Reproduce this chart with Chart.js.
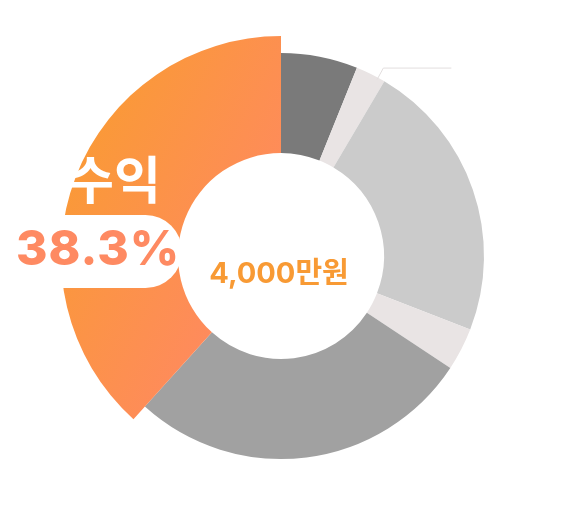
<!DOCTYPE html>
<html>
<head>
<meta charset="utf-8">
<script src="https://cdn.jsdelivr.net/npm/chart.js@4"></script>
<style>
  html, body { margin: 0; padding: 0; background: #ffffff; }
  #wrap { width: 580px; height: 521px; position: relative; }
</style>
</head>
<body>
<div id="wrap"><canvas id="c"></canvas></div>
<script>
const categories = ['항목 1', '항목 2', '항목 3', '항목 4', '항목 5', '수익'];
const values = [6.1, 2.4, 22.4, 3.4, 27.4, 38.3];
const sliceColors = ['#7a7a7a', '#e9e4e4', '#cbcbcb', '#e9e4e4', '#a1a1a1', 'GRADIENT'];
const highlightIndex = 5;
const highlightName = '수익';
const highlightLabel = '38.3%';
const totalLabel = '4,000만원';

function orangeGradient(chart) {
  const area = chart.chartArea;
  if (!area) return '#fb9440';
  const cx = (area.left + area.right) / 2;
  const r = Math.min(area.width, area.height) / 2;
  const g = chart.ctx.createLinearGradient(cx - r, area.top + r * 0.6, cx, area.top + r * 1.1);
  g.addColorStop(0, '#fa9a36');
  g.addColorStop(1, '#ff8863');
  return g;
}

function colorFor(ctx, outer) {
  const i = ctx.dataIndex;
  if (outer) return 'rgba(0,0,0,0)';
  if (i === highlightIndex) return orangeGradient(ctx.chart);
  return sliceColors[i];
}

// the highlighted slice reaches out to the outer (thin) ring's edge
const growPlugin = {
  id: 'grow',
  afterDatasetsUpdate(chart) {
    const outerEl = chart.getDatasetMeta(0).data[highlightIndex];
    const innerEl = chart.getDatasetMeta(1).data[highlightIndex];
    if (outerEl && innerEl) innerEl.outerRadius = outerEl.outerRadius;
  }
};

const labelPlugin = {
  id: 'labels',
  afterDatasetsDraw(chart) {
    const ctx = chart.ctx;
    const meta = chart.getDatasetMeta(1);
    const arc0 = meta.data[0];
    const cx = arc0.x, cy = arc0.y;

    // leader line from the small slice
    const a = meta.data[1];
    const mid = (a.startAngle + a.endAngle) / 2 + 0.04;
    const r1 = a.outerRadius - 2, r2 = a.outerRadius + 11;
    const x1 = cx + Math.cos(mid) * r1, y1 = cy + Math.sin(mid) * r1;
    const x2 = cx + Math.cos(mid) * r2, y2 = cy + Math.sin(mid) * r2;
    ctx.save();
    ctx.strokeStyle = '#e2dede';
    ctx.lineWidth = 1;
    ctx.beginPath();
    ctx.moveTo(x1, y1);
    ctx.lineTo(x2, y2);
    ctx.lineTo(x2 + 68, y2);
    ctx.stroke();
    ctx.restore();

    // white pill
    const pr = 36.5;
    const pRight = cx - 99, pTop = cy - 41, pBot = cy + 32;
    ctx.save();
    ctx.fillStyle = '#ffffff';
    ctx.beginPath();
    ctx.moveTo(-50, pTop);
    ctx.lineTo(pRight - pr, pTop);
    ctx.arc(pRight - pr, (pTop + pBot) / 2, pr, -Math.PI / 2, Math.PI / 2);
    ctx.lineTo(-50, pBot);
    ctx.closePath();
    ctx.fill();

    ctx.textBaseline = 'middle';
    ctx.textAlign = 'left';
    ctx.fillStyle = '#fe8a62';
    ctx.font = '800 48px Inter, "Noto Sans CJK KR", sans-serif';
    if ('letterSpacing' in ctx) ctx.letterSpacing = '1px';
    ctx.fillText(highlightLabel, cx - 265, cy - 5);
    if ('letterSpacing' in ctx) ctx.letterSpacing = '0px';

    ctx.fillStyle = '#ffffff';
    ctx.font = '700 51px "Noto Sans CJK KR", sans-serif';
    ctx.fillText(highlightName, cx - 214, cy - 76);

    ctx.textAlign = 'center';
    ctx.fillStyle = '#f89a34';
    ctx.font = '700 29px Inter, "Noto Sans CJK KR", sans-serif';
    ctx.fillText(totalLabel, cx - 2, cy + 18);
    ctx.restore();
  }
};

new Chart(document.getElementById('c'), {
  type: 'doughnut',
  data: {
    labels: categories,
    datasets: [
      {
        data: values,
        weight: 17,
        backgroundColor: (ctx) => colorFor(ctx, true),
        borderWidth: 0,
        hoverBorderWidth: 0,
        offset: 0,
        hoverOffset: 0
      },
      {
        data: values,
        weight: 100,
        backgroundColor: (ctx) => colorFor(ctx, false),
        borderWidth: 0,
        hoverBorderWidth: 0,
        offset: 0,
        hoverOffset: 0
      }
    ]
  },
  options: {
    responsive: true,
    maintainAspectRatio: false,
    animation: false,
    events: [],
    cutout: '46.8%',
    layout: { padding: { left: 50, right: 68, top: 36, bottom: 45 } },
    plugins: {
      legend: { display: false },
      tooltip: { enabled: false }
    }
  },
  plugins: [growPlugin, labelPlugin]
});
</script>
</body>
</html>
